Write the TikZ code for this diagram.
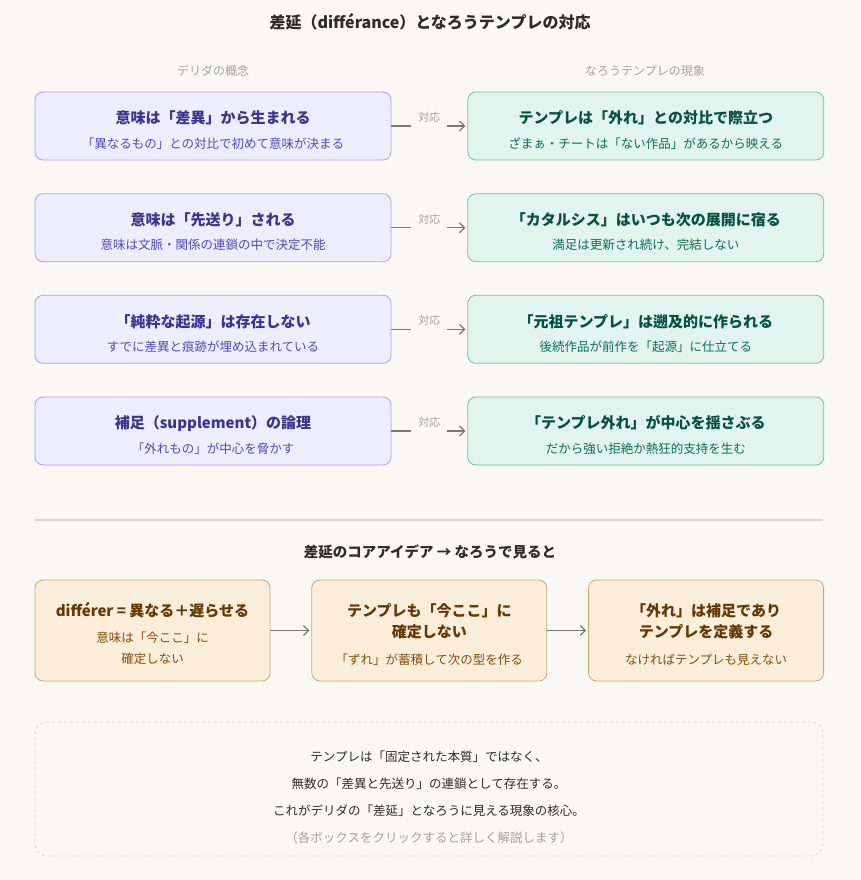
\documentclass[tikz,border=0pt]{standalone}
\usepackage{fontspec}
\setmainfont{Noto Sans CJK JP}
\usetikzlibrary{
    arrows.meta,
    positioning
}

\definecolor{bg}{HTML}{F9F8F5}
\definecolor{ink}{HTML}{2C2C2A}
\definecolor{muted}{HTML}{A3A29B}
\definecolor{rulegray}{HTML}{D8D6CF}
\definecolor{arrowgray}{HTML}{797872}
\definecolor{conceptfill}{HTML}{EEEDFE}
\definecolor{conceptline}{HTML}{AAA4E6}
\definecolor{concepttitle}{HTML}{3C3489}
\definecolor{conceptsub}{HTML}{534AB7}
\definecolor{narofill}{HTML}{E1F5EE}
\definecolor{naroline}{HTML}{72BFA0}
\definecolor{narotitle}{HTML}{085041}
\definecolor{narosub}{HTML}{0F6E56}
\definecolor{corefill}{HTML}{FAEEDA}
\definecolor{coreline}{HTML}{CCA877}
\definecolor{coretitle}{HTML}{633806}
\definecolor{coresub}{HTML}{854F0B}

\newcommand{\boxsub}[2]{{\mdseries\fontsize{12.5}{15}\selectfont\color{#1}#2}}
\newcommand{\boxtop}{\rule{0pt}{21pt}}

\begin{document}
\begin{tikzpicture}[
    x=1pt, y=-1pt,
    node distance=76pt,
    concept/.style={rectangle, rounded corners=8pt, draw=conceptline,
                    fill=conceptfill, line width=0.8pt,
                    minimum width=356pt, minimum height=68pt, align=center,
                    text=concepttitle, font=\fontsize{15}{20}\selectfont\bfseries},
    naro/.style={concept, draw=naroline, fill=narofill, text=narotitle},
    core/.style={rectangle, rounded corners=8pt, draw=coreline,
                 fill=corefill, line width=0.8pt,
                 minimum width=235pt, minimum height=101pt, align=center,
                 text=coretitle, font=\fontsize{15}{21}\selectfont\bfseries},
    header/.style={text=muted, font=\fontsize{12}{14}\selectfont},
    conn/.style={-{Straight Barb[length=5pt,width=10pt]}, line width=1.3pt,
                 draw=arrowgray, shorten >=2pt},
    corr/.style={fill=bg, text=muted, font=\fontsize{11}{13}\selectfont,
                 inner xsep=7pt, inner ysep=6pt, anchor=south, yshift=-3pt}
]

    \useasboundingbox[fill=bg] (0,0) rectangle (860,880);

    % Headings
    \node (title) at (430,22) [text=ink, font=\fontsize{16}{18}\selectfont\bfseries]
        {差延（différance）となろうテンプレの対応};
    \node (hleft) at (213,71) [header] {デリダの概念};
    \node (hright) at (645,71) [header] {なろうテンプレの現象};

    % Derrida concepts
    \node (l1) at (213,126) [concept] {
        \boxtop 意味は「差異」から生まれる\\[4.5pt]
        \boxsub{conceptsub}{「異なるもの」との対比で初めて意味が決まる}
    };
    \node (l2) at (213,227.7) [concept] {
        \boxtop 意味は「先送り」される\\[4.5pt]
        \boxsub{conceptsub}{意味は文脈・関係の連鎖の中で決定不能}
    };
    \node (l3) at (213,329.3) [concept] {
        \boxtop「純粋な起源」は存在しない\\[4.5pt]
        \boxsub{conceptsub}{すでに差異と痕跡が埋め込まれている}
    };
    \node (l4) at (213,431) [concept] {
        \boxtop 補足（supplement）の論理\\[4.5pt]
        \boxsub{conceptsub}{「外れもの」が中心を脅かす}
    };

    % Narou phenomena
    \node (r1) [naro, right=of l1] {
        \boxtop テンプレは「外れ」との対比で際立つ\\[4.5pt]
        \boxsub{narosub}{ざまぁ・チートは「ない作品」があるから映える}
    };
    \node (r2) [naro, right=of l2] {
        \boxtop「カタルシス」はいつも次の展開に宿る\\[4.5pt]
        \boxsub{narosub}{満足は更新され続け、完結しない}
    };
    \node (r3) [naro, right=of l3] {
        \boxtop「元祖テンプレ」は遡及的に作られる\\[4.5pt]
        \boxsub{narosub}{後続作品が前作を「起源」に仕立てる}
    };
    \node (r4) [naro, right=of l4] {
        \boxtop「テンプレ外れ」が中心を揺さぶる\\[4.5pt]
        \boxsub{narosub}{だから強い拒絶か熱狂的支持を生む}
    };

    % Correspondence arrows
    \foreach \i in {1,...,4}
        \draw [conn] (l\i) -- (r\i) node[midway, corr] {対応};

    % Separator
    \draw [rulegray, line width=1.6pt] (35,520) -- (823,520);

    % Core idea
    \node (core) at (430,552) [text=ink, font=\fontsize{14.5}{16}\selectfont\bfseries]
        {差延のコアアイデア → なろうで見ると};

    \node (c1) at (152.5,630.5) [core] {
        \boxtop différer = 異なる＋遅らせる\\[5pt]
        \boxsub{coresub}{意味は「今ここ」に}\\
        \boxsub{coresub}{確定しない}
    };
    \node (c2) [core, right=41pt of c1] {
        \boxtop テンプレも「今ここ」に\\
        確定しない\\[6pt]
        \boxsub{coresub}{「ずれ」が蓄積して次の型を作る}
    };
    \node (c3) [core, right=41pt of c2] {
        \boxtop「外れ」は補足であり\\
        テンプレを定義する\\[6pt]
        \boxsub{coresub}{なければテンプレも見えない}
    };

    \draw [conn] (c1) -- (c2);
    \draw [conn] (c2) -- (c3);

    % Closing note
    \node (frame) at (429,789) [rectangle, rounded corners=12pt, dashed,
        draw=rulegray, line width=0.9pt, minimum width=788pt, minimum height=134pt] {};
    \node (note) at (429,797) [align=center, text=ink,
        font=\fontsize{12.5}{27}\selectfont] {
        テンプレは「固定された本質」ではなく、\\
        無数の「差異と先送り」の連鎖として存在する。\\
        これがデリダの「差延」となろうに見える現象の核心。\\
        {\color{muted}（各ボックスをクリックすると詳しく解説します）}
    };

\end{tikzpicture}
\end{document}
